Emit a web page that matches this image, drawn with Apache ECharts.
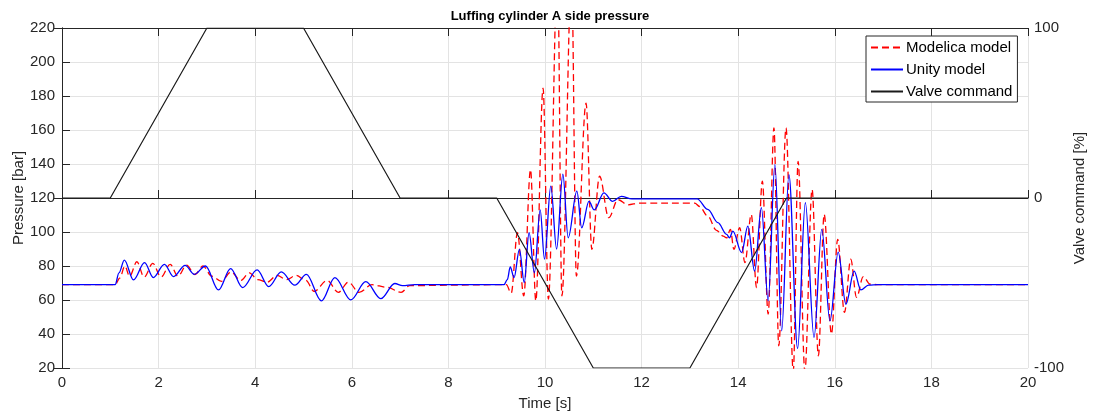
<!DOCTYPE html>
<html>
<head>
<meta charset="utf-8">
<script src="https://cdn.jsdelivr.net/npm/echarts@6/dist/echarts.min.js"></script>
<style>
html,body{margin:0;padding:0;background:#fff;}
#chart{width:1094px;height:417px;}
</style>
</head>
<body>
<div id="chart"></div>
<script>
// ---- data ----
const xTicks = [0, 2, 4, 6, 8, 10, 12, 14, 16, 18, 20];
const pressureTicks = [20, 40, 60, 80, 100, 120, 140, 160, 180, 200, 220];
const valveTicks = [-100, 0, 100];

const unityTime = [0, 1.1, 1.18, 1.29, 1.48, 1.71, 1.89, 2.12, 2.31, 2.55, 2.74, 2.97, 3.24, 3.49, 3.74, 4.04, 4.28, 4.54, 4.82, 5.06, 5.37, 5.65, 5.98, 6.29, 6.6, 6.89, 7.05, 7.3,
  9.15, 9.22, 9.28, 9.36, 9.47, 9.57, 9.67, 9.78, 9.9, 9.99, 10.12, 10.24, 10.37, 10.48, 10.66, 10.76, 10.91, 11.02, 11.22, 11.4, 11.58, 11.8,
  13.15, 13.37, 13.58, 13.76, 13.82, 13.89, 14.07, 14.2, 14.34, 14.48, 14.62, 14.76, 14.9, 15.05, 15.23, 15.39, 15.57, 15.73, 15.9, 16.07, 16.23, 16.4, 16.54, 16.7, 16.9, 20];
const unityPressure = [69, 69, 76, 83.5, 71.8, 82, 73.2, 81, 73.8, 80.4, 75.1, 80, 65.9, 78.5, 67.3, 77.7, 67.9, 76.5, 68.7, 75.1, 59.5, 73.2, 60.1, 70.8, 60.8, 69.7, 68.4, 69,
  69, 72, 79.4, 73.2, 89.8, 70.3, 99.6, 76, 113, 84, 127, 90, 134, 96.6, 124, 102.5, 118, 113, 123, 118, 121, 119.5,
  119.5, 113.3, 105.5, 98.6, 96.6, 100.5, 87.9, 103.5, 77, 114.3, 59.5, 139.6, 41.9, 133.8, 31.5, 117.2, 38, 101.5, 47.7, 88.2, 57.5, 77, 65.9, 68.7, 69, 69];

const modelicaTime = [0, 1.1, 1.2, 1.3, 1.4, 1.55, 1.7, 1.88, 2.05, 2.24, 2.4, 2.58, 2.75, 2.92, 3.1, 3.3, 3.5, 3.7, 3.88, 4.05, 4.25, 4.45, 4.65, 4.85, 5.05, 5.22, 5.49, 5.72, 5.93, 6.15, 6.42, 6.72, 7.02, 7.2,
  9.0, 9.2, 9.3, 9.43, 9.56, 9.7, 9.81, 9.96, 10.07, 10.26, 10.35, 10.55, 10.65, 10.85, 10.97, 11.13, 11.32, 11.51, 11.72, 11.95,
  13.1, 13.2, 13.37, 13.55, 13.69, 13.76, 13.84, 13.91, 14.03, 14.14, 14.27, 14.38, 14.5, 14.62, 14.74, 14.84, 14.99, 15.14, 15.24, 15.38, 15.53, 15.66, 15.78, 15.93, 16.06, 16.2, 16.33, 16.45, 16.59, 16.73, 16.9, 20];
const modelicaPressure = [69, 69, 73, 80, 74, 82.5, 73.5, 81.5, 73.5, 81, 74, 80.5, 75, 80, 74, 71, 76.5, 71.5, 76, 72, 70.5, 74.5, 72, 74.5, 71.5, 65, 71.5, 64.5, 70.5, 64.5, 69, 67.5, 64.5, 68.5,
  69, 69, 64, 99.6, 62.4, 136.7, 59.5, 184.6, 60.5, 255, 62.4, 250, 74, 175.8, 89.8, 132.8, 108.4, 119, 116, 117,
  117, 115, 109.3, 101, 97.6, 96.5, 101.5, 89.8, 102.5, 82, 110.3, 67.3, 129.9, 51.7, 161.2, 33, 161.2, 18, 141.6, 18, 125, 27.2, 110.3, 40, 95.7, 52.7, 84, 61.5, 73.8, 69.3, 69, 69];

const valveTime = [0, 1, 3, 5, 7, 9, 11, 13, 15, 20];
const valveCommand = [0, 0, 100, 100, 0, 0, -100, -100, 0, 0];

const zip = (a, b) => a.map((v, i) => [v, b[i]]);

// ---- chart ----
const chart = echarts.init(document.getElementById('chart'), null, {renderer: 'canvas'});
const FONT = '"Liberation Sans", Arial, sans-serif';
const AX = '#262626';
const GRID = '#e3e3e3';

chart.setOption({
  animation: false,
  backgroundColor: '#fff',
  title: {
    text: 'Luffing cylinder A side pressure',
    left: 545, top: 5, textAlign: 'center',
    textStyle: {fontFamily: FONT, fontWeight: 'bold', fontSize: 13, color: '#000'}
  },
  legend: {
    orient: 'vertical', left: 866, top: 36,
    backgroundColor: '#fff', borderColor: AX, borderWidth: 1,
    padding: [4, 5, 3, 4], itemWidth: 32, itemHeight: 14, itemGap: 7,
    itemStyle: {opacity: 0},
    textStyle: {fontFamily: FONT, fontSize: 15, color: '#000', padding: [0, 0, 0, -2]},
    data: ['Modelica model', 'Unity model', 'Valve command']
  },
  grid: {left: 62, right: 66, top: 28, bottom: 49, containLabel: false, outerBoundsMode: 'none'},
  xAxis: [{
    type: 'value', min: 0, max: 20, interval: 2,
    name: 'Time [s]', nameLocation: 'middle', nameGap: 28, nameMoveOverlap: false,
    nameTextStyle: {fontFamily: FONT, fontSize: 15, color: AX},
    axisLine: {show: true, lineStyle: {color: AX, width: 1}},
    axisTick: {show: true, inside: true, length: 8, lineStyle: {color: AX}},
    axisLabel: {fontFamily: FONT, fontSize: 15, color: AX, margin: 7,
      formatter: v => xTicks.includes(v) ? String(v) : ''},
    splitLine: {show: true, lineStyle: {color: GRID, width: 1}}
  }, {
    type: 'value', min: 0, max: 20, interval: 2, position: 'top',
    axisLine: {show: true, lineStyle: {color: AX, width: 1}},
    axisTick: {show: true, inside: true, length: 8, lineStyle: {color: AX}},
    axisLabel: {show: false}, splitLine: {show: false}
  }],
  yAxis: [{
    type: 'value', min: 20, max: 220, interval: 20, position: 'left',
    name: 'Pressure [bar]', nameLocation: 'middle', nameGap: 36, nameRotate: 90, nameMoveOverlap: false,
    nameTextStyle: {fontFamily: FONT, fontSize: 15, color: AX},
    axisLine: {show: true, lineStyle: {color: AX, width: 1}},
    axisTick: {show: true, inside: true, length: 8, lineStyle: {color: AX}},
    axisLabel: {fontFamily: FONT, fontSize: 15, color: AX, margin: 7,
      formatter: v => pressureTicks.includes(v) ? String(v) : ''},
    splitLine: {show: true, lineStyle: {color: GRID, width: 1}}
  }, {
    type: 'value', min: -100, max: 100, interval: 100, position: 'right',
    name: 'Valve command [%]', nameLocation: 'middle', nameGap: 44, nameRotate: 90, nameMoveOverlap: false,
    nameTextStyle: {fontFamily: FONT, fontSize: 15, color: AX},
    axisLine: {show: true, lineStyle: {color: AX, width: 1}},
    axisTick: {show: true, inside: true, length: 8, lineStyle: {color: AX}},
    axisLabel: {fontFamily: FONT, fontSize: 15, color: AX, margin: 6,
      formatter: v => valveTicks.includes(v) ? String(v) : ''},
    splitLine: {show: false}
  }],
  series: [{
    name: 'Modelica model', type: 'line', xAxisIndex: 0, yAxisIndex: 0,
    data: zip(modelicaTime, modelicaPressure),
    symbol: 'none', smooth: 0.35, smoothMonotone: 'x', clip: true,
    lineStyle: {color: '#ff0000', width: 1.3, type: [7, 4]},
    itemStyle: {color: '#ff0000'}
  }, {
    name: 'Unity model', type: 'line', xAxisIndex: 0, yAxisIndex: 0,
    data: zip(unityTime, unityPressure),
    symbol: 'none', smooth: 0.35, smoothMonotone: 'x', clip: true,
    lineStyle: {color: '#0000ff', width: 1.3},
    itemStyle: {color: '#0000ff'}
  }, {
    name: 'Valve command', type: 'line', xAxisIndex: 0, yAxisIndex: 1,
    data: zip(valveTime, valveCommand),
    symbol: 'none', clip: true,
    lineStyle: {color: '#1a1a1a', width: 1.2},
    itemStyle: {color: '#1a1a1a'}
  }]
});
</script>
</body>
</html>
